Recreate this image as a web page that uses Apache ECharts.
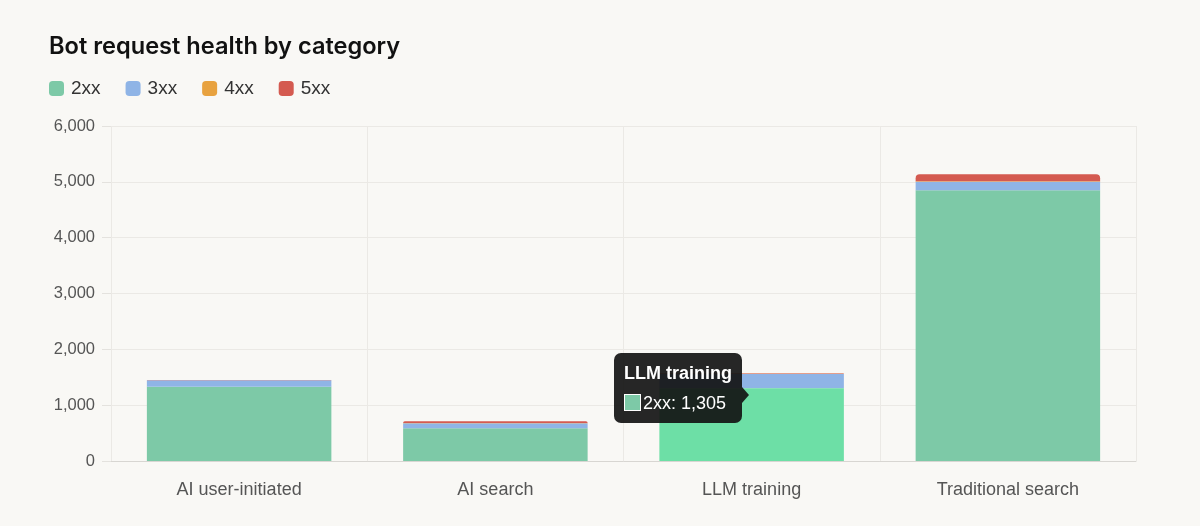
<!DOCTYPE html>
<html>
<head>
<meta charset="utf-8">
<script src="https://cdn.jsdelivr.net/npm/echarts@6/dist/echarts.min.js"></script>
<style>
  html, body { margin: 0; padding: 0; background: #f9f8f5; }
  #main { width: 1200px; height: 526px; }
</style>
</head>
<body>
<div id="main"></div>
<script>
// 数据
var categories = ['AI user-initiated', 'AI search', 'LLM training', 'Traditional search'];
var s2xx = [1330, 585, 1305, 4850];
var s3xx = [115, 90, 255, 150];
var s4xx = [3, 5, 4, 10];
var s5xx = [4, 30, 8, 125];
var yTicks = [0, 1000, 2000, 3000, 4000, 5000, 6000];

var colors = {
  '2xx': '#7dc9a7',
  '3xx': '#8fb4e6',
  '4xx': '#e8a23f',
  '5xx': '#d45a50'
};

var myChart = echarts.init(document.getElementById('main'));

function fmt(v) {
  return Number(v).toLocaleString('en-US');
}

function bar(name, data, extra) {
  var s = {
    name: name,
    type: 'bar',
    stack: 'total',
    barWidth: '72%',
    data: data,
    itemStyle: { color: colors[name] },
    emphasis: { focus: 'none' }
  };
  return Object.assign(s, extra || {});
}

myChart.setOption({
  backgroundColor: '#f9f8f5',
  animation: false,
  title: {
    text: 'Bot request health by category',
    left: 44,
    top: 30,
    textStyle: { fontFamily: 'Inter', fontSize: 23.6, fontWeight: 600, color: '#111' }
  },
  legend: {
    data: ['2xx', '3xx', '4xx', '5xx'],
    left: 44,
    top: 74,
    icon: 'roundRect',
    itemWidth: 15,
    itemHeight: 15,
    itemGap: 25,
    textStyle: { fontFamily: 'Liberation Sans', fontSize: 19, color: '#333', padding: [0, 0, 0, 2] }
  },
  tooltip: {
    trigger: 'item',
    alwaysShowContent: true,
    position: [614, 353],
    backgroundColor: 'rgba(20,20,20,0.92)',
    borderWidth: 0,
    padding: [10, 10, 9, 10],
    extraCssText: 'border-radius:7px;box-shadow:none;overflow:visible;',
    formatter: function (p) {
      return '<div style="position:relative;font-family:Liberation Sans;color:#fff;">' +
        '<div style="font-weight:bold;font-size:18px;line-height:21px;">' + p.name + '</div>' +
        '<div style="font-size:18px;line-height:21px;margin-top:9px;">' +
        '<span style="display:inline-block;width:15px;height:15px;background:' + colors[p.seriesName] +
        ';border:1px solid #fff;vertical-align:-2px;margin-right:2px;"></span>' +
        p.seriesName + ': ' + fmt(p.value) + '</div>' +
        '<div style="position:absolute;right:-17px;top:24px;width:0;height:0;border-top:8px solid transparent;' +
        'border-bottom:8px solid transparent;border-left:7px solid rgba(20,20,20,0.92);"></div>' +
        '</div>';
    }
  },
  grid: { left: 111, right: 64, top: 126, bottom: 65 },
  xAxis: {
    type: 'category',
    data: categories,
    axisLine: { lineStyle: { color: '#d8d6d2' } },
    axisTick: { length: 10, lineStyle: { color: '#e4e2de' } },
    splitLine: { show: true, lineStyle: { color: '#ebe9e5' } },
    axisLabel: { fontFamily: 'Liberation Sans', fontSize: 18, color: '#555', margin: 20 }
  },
  yAxis: {
    type: 'value',
    min: yTicks[0],
    max: yTicks[yTicks.length - 1],
    interval: 1000,
    axisLine: { show: false },
    axisTick: { show: true, length: 9, lineStyle: { color: '#e4e2de' } },
    splitLine: { lineStyle: { color: '#ebe9e5' } },
    axisLabel: {
      fontFamily: 'Liberation Sans', fontSize: 16.5, color: '#555', margin: 16,
      formatter: function (v) { return fmt(v); }
    }
  },
  series: [
    bar('2xx', s2xx, { emphasis: { focus: 'none', itemStyle: { color: '#6ddfa6' } } }),
    bar('3xx', s3xx),
    bar('4xx', s4xx),
    bar('5xx', s5xx, { itemStyle: { color: colors['5xx'], borderRadius: [4, 4, 0, 0] } })
  ]
});

myChart.dispatchAction({ type: 'highlight', seriesIndex: 0, dataIndex: 2 });
myChart.dispatchAction({ type: 'showTip', seriesIndex: 0, dataIndex: 2 });
</script>
</body>
</html>
